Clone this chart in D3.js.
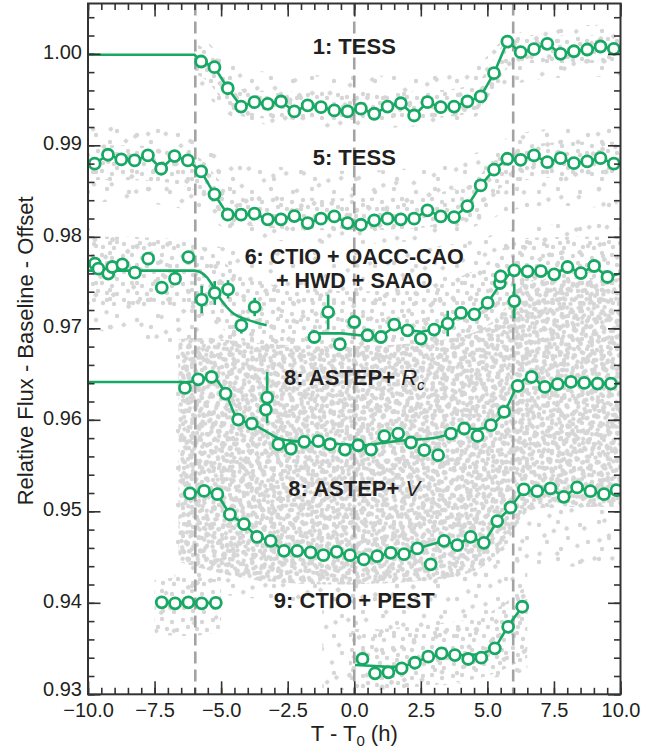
<!DOCTYPE html>
<html>
<head>
<meta charset="utf-8">
<script src="https://cdn.jsdelivr.net/npm/d3@7"></script>
<style>
  html, body { margin: 0; padding: 0; background: #fff; }
  svg { display: block; }
  text { font-family: "Liberation Sans", Arial, Helvetica, sans-serif; fill: #231f20; }
</style>
</head>
<body>
<svg id="chart" width="670" height="754"></svg>
<script>
// ---------------- binned light curves (time from mid-transit in h, relative flux) ----------------
const tess1Time = [-5.75,-5.25,-4.75,-4.25,-3.75,-3.25,-2.75,-2.25,-1.75,-1.25,-0.75,-0.25,0.25,0.75,1.25,1.75,2.25,2.75,3.25,3.75,4.25,4.75,5.25,5.75,6.25,6.75,7.25,7.75,8.25,8.75,9.25,9.75];
const tess1Flux = [0.99916,0.99854,0.99624,0.99424,0.99472,0.99454,0.99479,0.99370,0.99436,0.99417,0.99381,0.99370,0.99400,0.99345,0.99424,0.99460,0.99326,0.99472,0.99417,0.99424,0.99479,0.99534,0.99788,1.00134,1.00018,1.00051,1.00109,1.00000,1.00028,1.00047,1.00080,1.00055];
const tess1Baseline = [[-10, 0.9999], [-6.0, 0.9999]];

const tess5Time = [-9.75,-9.25,-8.75,-8.25,-7.75,-7.25,-6.75,-6.25,-5.75,-5.25,-4.75,-4.25,-3.75,-3.25,-2.75,-2.25,-1.75,-1.25,-0.75,-0.25,0.25,0.75,1.25,1.75,2.25,2.75,3.25,3.75,4.25,4.75,5.25,5.75,6.25,6.75,7.25,7.75,8.25,8.75,9.25,9.75];
const tess5Flux = [0.98799,0.98897,0.98846,0.98835,0.98890,0.98744,0.98882,0.98835,0.98715,0.98464,0.98242,0.98242,0.98253,0.98191,0.98191,0.98227,0.98150,0.98198,0.98223,0.98150,0.98132,0.98180,0.98198,0.98191,0.98198,0.98289,0.98223,0.98216,0.98336,0.98562,0.98734,0.98853,0.98842,0.98890,0.98816,0.98860,0.98805,0.98824,0.98860,0.98799];

const ground6Time = [-9.74,-9.61,-9.24,-9.09,-8.71,-8.24,-7.74,-7.23,-6.73,-6.23,-5.73,-5.24,-4.74,-4.24,-3.74,-1.50,-0.98,-0.54,0.00,0.50,1.00,1.50,2.00,2.50,3.00,3.51,4.01,4.51,5.01,5.47,5.50,6.01,6.01,6.51,7.01,7.51,8.01,8.51,9.01,9.51];
const ground6Flux = [0.97707,0.97652,0.97598,0.97670,0.97699,0.97608,0.97761,0.97445,0.97543,0.97779,0.97314,0.97386,0.97426,0.97033,0.97233,0.96905,0.97178,0.96826,0.97069,0.96924,0.96905,0.97040,0.96978,0.96888,0.96986,0.97052,0.97168,0.97153,0.97277,0.97495,0.97568,0.97298,0.97634,0.97623,0.97626,0.97590,0.97670,0.97604,0.97681,0.97561];
const ground6Err  = [0.0004,0.0004,0.0004,0.0004,0.0004,0.0004,0.0004,0.0004,0.0004,0.0004,0.0015,0.0013,0.0010,0.0009,0.0010,0.0004,0.0019,0.0004,0.0004,0.0004,0.0004,0.0004,0.0004,0.0004,0.0004,0.0014,0.0004,0.0004,0.0004,0.0004,0.0004,0.0019,0.0004,0.0004,0.0004,0.0004,0.0004,0.0004,0.0004,0.0004];
const ground6ModelA = [[-10,0.9763],[-6.0,0.9763],[-5.54,0.9756],[-5.29,0.97451],[-5.04,0.97325],[-4.79,0.97233],[-4.54,0.97161],[-4.04,0.97098],[-3.29,0.97033]];
const ground6ModelB = [[-1.6,0.96945],[-0.47,0.96945],[0.47,0.96916],[1.03,0.96916],[1.53,0.97025],[2.03,0.96981],[2.53,0.96963],[3.03,0.96989],[3.53,0.97047],[4.03,0.97164],[4.52,0.97164],[5.01,0.97280],[5.51,0.97492],[5.97,0.97637],[6.51,0.97623],[7.01,0.97626],[7.51,0.97590],[8.01,0.97670],[8.51,0.97604],[9.01,0.97681],[9.51,0.97561],[10.0,0.97600]];

const astepRTime = [-6.36,-5.86,-5.36,-4.83,-4.36,-3.85,-3.32,-3.27,-2.85,-2.38,-1.88,-1.35,-0.91,-0.35,0.15,0.63,1.13,1.65,2.13,2.63,3.15,3.63,4.13,4.63,5.13,5.63,6.14,6.66,7.16,7.64,8.14,8.64,9.14,9.64];
const astepRFlux = [0.96348,0.96443,0.96468,0.96287,0.96003,0.95959,0.96112,0.96243,0.95733,0.95686,0.95759,0.95766,0.95733,0.95675,0.95722,0.95675,0.95821,0.95850,0.95752,0.95668,0.95613,0.95850,0.95905,0.95824,0.95941,0.96086,0.96370,0.96468,0.96359,0.96389,0.96414,0.96403,0.96396,0.96396];
const astepRErr  = [0.0004,0.0004,0.0004,0.0004,0.0004,0.0004,0.0004,0.0028,0.0004,0.0004,0.0004,0.0004,0.0004,0.0004,0.0004,0.0004,0.0004,0.0004,0.0004,0.0004,0.0004,0.0004,0.0004,0.0004,0.0004,0.0004,0.0004,0.0004,0.0004,0.0004,0.0004,0.0004,0.0004,0.0004];
const astepRModel = [[-10,0.96414],[-6.2,0.96414],[-5.86,0.96443],[-5.36,0.96468],[-4.83,0.96287],[-4.36,0.96003],[-3.85,0.95959],[-3.3,0.95870],[-2.85,0.95800],[-2.35,0.95770],[-1.85,0.95760],[-1.35,0.95750],[-0.85,0.95740],[-0.35,0.95730],[0.15,0.95720],[0.65,0.95730],[1.15,0.95750],[1.65,0.95770],[2.15,0.95780],[2.65,0.95790],[3.15,0.95810],[3.63,0.95850],[4.13,0.95905],[4.63,0.95900],[5.13,0.95941],[5.63,0.96086],[6.14,0.96370],[6.66,0.96468],[7.16,0.96359],[7.64,0.96389],[8.14,0.96414],[8.64,0.96403],[9.14,0.96396],[9.64,0.96396],[10.0,0.96400]];

const astepVTime = [-6.17,-5.64,-5.14,-4.67,-4.14,-3.65,-3.14,-2.64,-2.14,-1.64,-1.16,-0.66,-0.16,0.36,0.86,1.37,1.87,2.37,2.87,3.37,3.87,4.37,4.87,5.37,5.87,6.37,6.87,7.37,7.87,8.37,8.87,9.38,9.85];
const astepVFlux = [0.95195,0.95223,0.95187,0.94966,0.94860,0.94721,0.94677,0.94568,0.94568,0.94551,0.94521,0.94557,0.94521,0.94474,0.94510,0.94546,0.94532,0.94594,0.94420,0.94677,0.94630,0.94721,0.94656,0.94893,0.95042,0.95239,0.95220,0.95250,0.95158,0.95261,0.95220,0.95187,0.95231];
const astepVModel = [[-6.17,0.95195],[-5.64,0.95223],[-5.14,0.95187],[-4.67,0.94966],[-4.14,0.94860],[-3.65,0.94721],[-3.14,0.94677],[-2.64,0.94568],[-2.14,0.94568],[-1.64,0.94551],[-1.16,0.94521],[-0.66,0.94557],[-0.16,0.94521],[0.36,0.94474],[0.86,0.94510],[1.37,0.94546],[1.87,0.94532],[2.37,0.94594],[3.37,0.94677],[3.87,0.94630],[4.37,0.94721],[4.87,0.94656],[5.37,0.94893],[5.87,0.95042],[6.37,0.95239],[6.87,0.95220],[7.37,0.95250],[7.87,0.95158],[8.37,0.95261],[8.87,0.95220],[9.38,0.95187],[9.85,0.95231],[10.0,0.95225]];

const ctioPreTime = [-7.23,-6.73,-6.23,-5.73,-5.20];
const ctioPreFlux = [0.94005,0.93994,0.94005,0.93994,0.94000];
const ctioPostTime = [0.31,0.78,1.28,1.78,2.28,2.78,3.28,3.78,4.28,4.77,5.28,5.78,6.31];
const ctioPostFlux = [0.93386,0.93229,0.93240,0.93284,0.93345,0.93411,0.93448,0.93429,0.93386,0.93400,0.93502,0.93738,0.93957];
const ctioPostModel = [[0.03,0.93320],[0.78,0.93310],[1.28,0.93300],[1.78,0.93300],[2.28,0.93345],[2.78,0.93411],[3.28,0.93430],[3.78,0.93430],[4.28,0.93430],[4.78,0.93440],[5.28,0.93502],[5.78,0.93746],[6.31,0.93957]];

// first contact, mid-transit, last contact (h)
const contactTimes = [-5.97, 0, 5.97];

// extent of the unbinned photometry: [time, lower flux, upper flux]
const rawTess1 = [[-6.0,0.9978,1.0012],[-5.5,0.9972,1.0004],[-5.0,0.9950,0.9985],[-4.5,0.9932,0.9962],[-4.0,0.9930,0.9960],[0,0.9926,0.9956],[4.0,0.9930,0.9960],[4.8,0.9940,0.9970],[5.3,0.9965,0.9997],[5.8,0.9990,1.0022],[6.5,0.9990,1.0020],[10,0.9990,1.0020]];
const rawTess1Wide = [[-6.0,0.9965,1.0025],[-5.0,0.9940,1.0000],[-4.2,0.9918,0.9975],[4.2,0.9918,0.9975],[5.0,0.9940,0.9995],[5.8,0.9975,1.0030],[10,0.9975,1.0032]];
const rawTess5 = [[-10,0.9862,0.9900],[-6.0,0.9862,0.9900],[-5.3,0.9830,0.9870],[-4.6,0.9806,0.9840],[4.2,0.9806,0.9842],[4.9,0.9835,0.9875],[5.6,0.9866,0.9904],[10,0.9866,0.9904]];
const rawTess5Wide = [[-10,0.9838,0.9922],[-6,0.9838,0.9922],[-4.6,0.9790,0.9870],[4.2,0.9790,0.9870],[5.6,0.9840,0.9920],[10,0.9830,0.9920]];
const rawGround6 = [[-10,0.9725,0.9800],[-6,0.9722,0.9800],[-5,0.9700,0.9775],[-4,0.9680,0.9750],[-1.5,0.9672,0.9740],[2,0.9672,0.9740],[4,0.9690,0.9755],[5,0.9705,0.9770],[5.8,0.9730,0.9795],[6.3,0.9740,0.9800],[10,0.9740,0.9800]];
const rawGround6Wide = [[-10,0.9700,0.9810],[-4,0.9665,0.9780],[4,0.9670,0.9785],[6,0.9720,0.9815],[10,0.9720,0.9815]];
const rawAstep = [[-6.6,0.9445,0.9688],[-6.0,0.9440,0.9690],[-5.0,0.9432,0.9688],[-4.0,0.9425,0.9685],[-2.0,0.9420,0.9680],[0,0.9420,0.9680],[2.0,0.9422,0.9682],[4.0,0.9428,0.9690],[5.0,0.9440,0.9700],[5.8,0.9465,0.9725],[6.3,0.9500,0.9752],[7,0.9505,0.9755],[10,0.9505,0.9755]];
const rawAstepWide = [[-6.75,0.9420,0.9700],[-4,0.9400,0.9700],[4,0.9400,0.9705],[6,0.9440,0.9740],[10,0.9440,0.9760]];
const rawCtioPre = [[-7.5,0.9366,0.9425],[-6.2,0.9362,0.9430],[-5.0,0.9368,0.9425]];
const rawCtioPost = [[-0.2,0.9306,0.9372],[1,0.9304,0.9370],[3,0.9310,0.9378],[4.5,0.9315,0.9380],[5.5,0.9325,0.9395],[6.5,0.9340,0.9420]];
const rawCtioPostWide = [[-1.2,0.9305,0.9425],[3,0.9305,0.9425],[6.5,0.9325,0.9445]];

// axis ticks
const xMajorTicks = [-10, -7.5, -5, -2.5, 0, 2.5, 5, 7.5, 10];
const yMajorTicks = [0.93, 0.94, 0.95, 0.96, 0.97, 0.98, 0.99, 1.00];

// ---------------- drawing ----------------
const GREEN = '#17a864';
const svg = d3.select('#chart');
const X0 = 88, X1 = 620.5, Y0 = 694.3, Y1 = 3.5;
const x = d3.scaleLinear().domain([-10, 10]).range([X0, X1]);
const y = d3.scaleLinear().domain([0.93, 1.0055]).range([Y0, Y1]);

const defs = svg.append('defs');
defs.append('clipPath').attr('id', 'plotClip')
  .append('rect').attr('x', X0).attr('y', Y1).attr('width', X1 - X0).attr('height', Y0 - Y1);

// speckle tiles used to render the unbinned photometry as a dot cloud
const speckle = [[3,4],[12,3],[22,6],[27,14],[8,11],[17,13],[4,20],[13,23],[24,24],[20,19]];
const speckleWide = [[6,7],[25,4],[35,20],[14,24],[28,31]];
function tile(id, w, h, pts, transform) {
  const p = defs.append('pattern').attr('id', id)
    .attr('patternUnits', 'userSpaceOnUse').attr('width', w).attr('height', h);
  if (transform) p.attr('patternTransform', transform);
  p.selectAll('circle').data(pts).join('circle')
    .attr('cx', d => d[0]).attr('cy', d => d[1]).attr('r', 2.2).attr('fill', '#d6d6d6');
}
tile('spA', 30, 28, speckle, null);
tile('spB', 30, 28, speckle, 'rotate(61) translate(7,3)');
tile('spC', 30, 28, speckle, 'rotate(-34) translate(11,5)');
tile('spD', 30, 28, speckle, 'rotate(17) translate(4,13)');
tile('spS', 41, 37, speckleWide, null);
tile('spT', 41, 37, speckleWide, 'rotate(47)');
const density = {
  dense: ['spA', 'spB', 'spC', 'spD'],
  medium: ['spA', 'spT'],
  sparse: ['spS', 'spT']
};

const plot = svg.append('g').attr('clip-path', 'url(#plotClip)');

// raw photometry clouds
const cloudArea = d3.area().curve(d3.curveBasis)
  .x(d => x(d[0])).y0(d => y(d[1])).y1(d => y(d[2]));
const clouds = [
  [rawTess1Wide, 'sparse'], [rawTess1, 'medium'],
  [rawTess5Wide, 'sparse'], [rawTess5, 'medium'],
  [rawGround6Wide, 'sparse'], [rawGround6, 'medium'],
  [rawAstepWide, 'sparse'], [rawAstep, 'dense'],
  [rawCtioPre, 'medium'],
  [rawCtioPostWide, 'sparse'], [rawCtioPost, 'medium']
];
const gCloud = plot.append('g');
clouds.forEach(([knots, level]) => {
  density[level].forEach(pid => {
    gCloud.append('path').attr('d', cloudArea(knots)).attr('fill', `url(#${pid})`);
  });
});

// contact times
plot.append('g').selectAll('line').data(contactTimes).join('line')
  .attr('x1', d => x(d)).attr('x2', d => x(d))
  .attr('y1', Y1).attr('y2', Y0)
  .attr('stroke', '#a3a3a3').attr('stroke-width', 2.6).attr('stroke-dasharray', '12,6');

// model curves
const zip = (t, f) => t.map((v, i) => [v, f[i]]);
const lineLin = d3.line().x(d => x(d[0])).y(d => y(d[1]));
const lineSmooth = d3.line().curve(d3.curveMonotoneX).x(d => x(d[0])).y(d => y(d[1]));
const models = [
  [tess1Baseline.concat(zip(tess1Time, tess1Flux)), lineLin],
  [zip(tess5Time, tess5Flux), lineLin],
  [ground6ModelA, lineSmooth],
  [ground6ModelB, lineLin],
  [astepRModel, lineSmooth],
  [astepVModel, lineLin],
  [zip(ctioPreTime, ctioPreFlux), lineLin],
  [ctioPostModel, lineLin]
];
const gModel = plot.append('g');
models.forEach(([pts, gen]) => {
  gModel.append('path').attr('d', gen(pts)).attr('fill', 'none')
    .attr('stroke', GREEN).attr('stroke-width', 2.6).attr('stroke-linejoin', 'round');
});

// error bars
const withErr = [
  ground6Time.map((t, i) => ({t, f: ground6Flux[i], e: ground6Err[i]})),
  astepRTime.map((t, i) => ({t, f: astepRFlux[i], e: astepRErr[i]}))
].flat();
plot.append('g').selectAll('line').data(withErr).join('line')
  .attr('x1', d => x(d.t)).attr('x2', d => x(d.t))
  .attr('y1', d => y(d.f - d.e)).attr('y2', d => y(d.f + d.e))
  .attr('stroke', GREEN).attr('stroke-width', 2.6);

// binned points
const binned = [
  zip(tess1Time, tess1Flux), zip(tess5Time, tess5Flux), zip(ground6Time, ground6Flux),
  zip(astepRTime, astepRFlux), zip(astepVTime, astepVFlux),
  zip(ctioPreTime, ctioPreFlux), zip(ctioPostTime, ctioPostFlux)
].flat();
plot.append('g').selectAll('circle').data(binned).join('circle')
  .attr('cx', d => x(d[0])).attr('cy', d => y(d[1])).attr('r', 5.5)
  .attr('fill', '#fff').attr('stroke', GREEN).attr('stroke-width', 2.8);

// data set labels
const gLab = svg.append('g').attr('font-size', 22).attr('font-weight', 'bold').attr('text-anchor', 'middle');
function label(fluxLevel, build) {
  const t = gLab.append('text').attr('x', x(0)).attr('y', y(fluxLevel));
  build(t);
  return t;
}
label(1.0000, t => t.text('1: TESS'));
label(0.9879, t => t.text('5: TESS'));
label(0.97705, t => t.text('6: CTIO + OACC-CAO')).attr('font-size', 21.5);
label(0.97440, t => t.text('+ HWD + SAAO')).attr('font-size', 21.5);
label(0.9638, t => {
  t.append('tspan').text('8: ASTEP+ ');
  t.append('tspan').attr('font-style', 'italic').attr('font-weight', 'normal').text('R');
  t.append('tspan').attr('font-style', 'italic').attr('font-weight', 'normal')
    .attr('font-size', 15).attr('dy', 5).text('c');
});
label(0.9517, t => {
  t.append('tspan').text('8: ASTEP+ ');
  t.append('tspan').attr('font-style', 'italic').attr('font-weight', 'normal').text('V');
});
label(0.93945, t => t.text('9: CTIO + PEST'));

// axes
function styleAxis(g) {
  g.attr('font-family', null).attr('font-size', null);
  g.select('.domain').remove();
  g.selectAll('.tick line').attr('stroke', '#333').attr('stroke-width', 1.6);
  g.selectAll('.tick text').attr('font-size', 20).attr('fill', '#231f20');
}
const xMinor = d3.range(-10, 10.001, 0.5);
const yMinor = d3.range(0.93, 1.0051, 0.002);

svg.append('g').attr('transform', `translate(0,${Y0})`)
  .call(d3.axisBottom(x).tickValues(xMinor).tickSize(-6.5).tickFormat('')).call(styleAxis);
svg.append('g').attr('transform', `translate(0,${Y0})`)
  .call(d3.axisBottom(x).tickValues(xMajorTicks).tickSize(-13).tickPadding(8.5).tickFormat(d3.format('.1f'))).call(styleAxis);
svg.append('g').attr('transform', `translate(0,${Y1})`)
  .call(d3.axisTop(x).tickValues(xMinor).tickSize(-6.5).tickFormat('')).call(styleAxis);
svg.append('g').attr('transform', `translate(0,${Y1})`)
  .call(d3.axisTop(x).tickValues(xMajorTicks).tickSize(-13).tickFormat('')).call(styleAxis);

svg.append('g').attr('transform', `translate(${X0},0)`)
  .call(d3.axisLeft(y).tickValues(yMinor).tickSize(-6.5).tickFormat('')).call(styleAxis);
const yAx = svg.append('g').attr('transform', `translate(${X0},0)`)
  .call(d3.axisLeft(y).tickValues(yMajorTicks).tickSize(-12.5).tickPadding(6).tickFormat(d3.format('.2f'))).call(styleAxis);
// the lowest label sits just above the x tick labels at the corner
yAx.selectAll('.tick text').attr('dy', d => d === 0.93 ? '0.04em' : '0.22em');
svg.append('g').attr('transform', `translate(${X1},0)`)
  .call(d3.axisRight(y).tickValues(yMinor).tickSize(-6.5).tickFormat('')).call(styleAxis);
svg.append('g').attr('transform', `translate(${X1},0)`)
  .call(d3.axisRight(y).tickValues(yMajorTicks).tickSize(-12.5).tickFormat('')).call(styleAxis);

// frame
svg.append('rect').attr('x', X0).attr('y', Y1).attr('width', X1 - X0).attr('height', Y0 - Y1)
  .attr('fill', 'none').attr('stroke', '#333').attr('stroke-width', 2);

// axis titles
const xt = svg.append('text').attr('x', x(0)).attr('y', 741).attr('text-anchor', 'middle').attr('font-size', 22);
xt.append('tspan').text('T - T');
xt.append('tspan').attr('font-size', 15).attr('dy', 5).text('0');
xt.append('tspan').attr('dy', -5).text(' (h)');

svg.append('text').attr('transform', `translate(33,${(Y0 + Y1) / 2 + 2}) rotate(-90)`)
  .attr('text-anchor', 'middle').attr('font-size', 22)
  .text('Relative Flux - Baseline - Offset');
</script>
</body>
</html>
